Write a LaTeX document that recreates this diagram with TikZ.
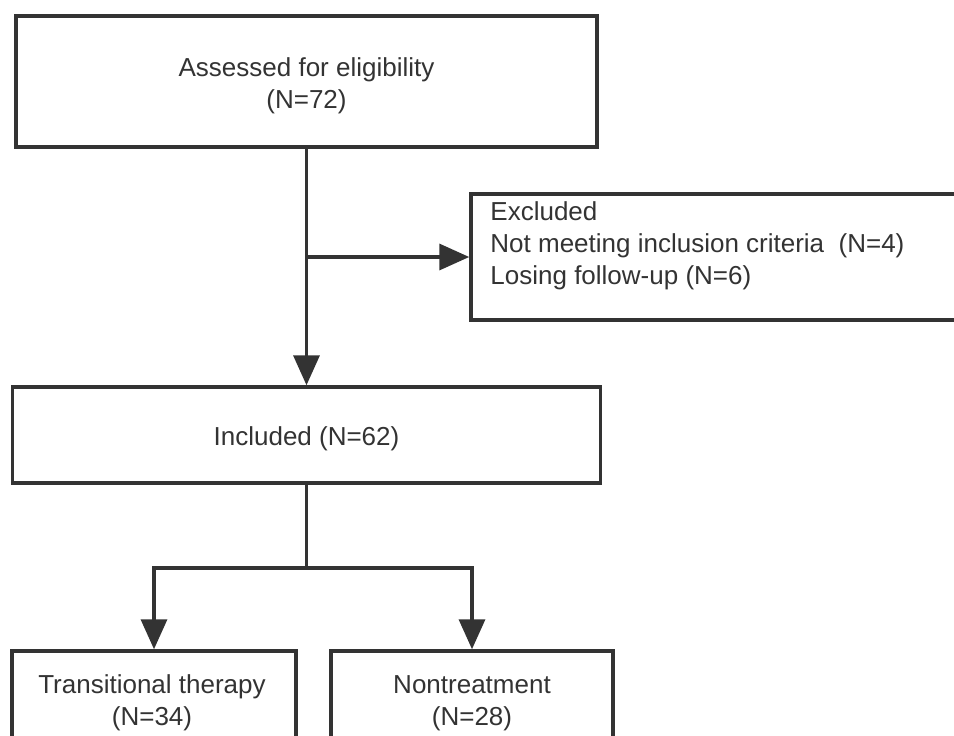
\documentclass[tikz,border=0pt]{standalone}
\usepackage{fontspec}
\setmainfont{Liberation Sans}
\usetikzlibrary{arrows.meta,calc}
\definecolor{ink}{HTML}{333333}
\begin{document}
\begin{tikzpicture}[x=1pt,y=-1pt,
  box/.style={draw=ink, line width=3.5pt, rectangle, inner sep=0pt},
  txt/.style={text=ink, inner sep=0pt, font=\fontsize{26}{32}\selectfont},
  conn/.style={draw=ink, line width=3.5pt},
  arr/.style={conn, -{Triangle[length=30pt,width=26pt]}}]
\useasboundingbox (0,0) rectangle (954,736);
\clip (0,0) rectangle (954,736);
\fill[white] (0,0) rectangle (954,736);
\node[box, minimum width=581pt, minimum height=131pt] (assess) at (306.5,81.5) {};
\node[txt, align=center] (assesstext) at ($(assess.center)+(0,4)$) {Assessed for eligibility\\(N=72)};
\node[box, minimum width=489pt, minimum height=126pt] (excl) at (715.5,257) {};
\node[txt, align=left, anchor=north west] (excltext) at ($(excl.north west)+(21,9)$) {Excluded\\Not meeting inclusion criteria~~(N=4)\\Losing follow-up (N=6)};
\node[box, minimum width=588pt, minimum height=96pt] (incl) at (306.5,435) {};
\node[txt] (incltext) at ($(incl.center)+(0,4)$) {Included (N=62)};
\node[box, minimum width=284pt, minimum height=98pt] (trans) at (154,700) {};
\node[txt, align=center] (transtext) at ($(trans.center)+(-2,3)$) {Transitional therapy\\(N=34)};
\node[box, minimum width=282pt, minimum height=98pt] (non) at (472,700) {};
\node[txt, align=center] (nontext) at ($(non.center)+(0,3)$) {Nontreatment\\(N=28)};
\coordinate (branch) at (assess.south |- excl.west);
\coordinate (split) at ($(incl.south)+(0,83)$);
\draw[arr] (assess.south) -- (incl.north);
\draw[arr] (branch) -- (excl.west);
\draw[conn] (incl.south) -- (split);
\draw[arr, line join=miter] (split) -| (trans.north);
\draw[arr, line join=miter] (split) -| (non.north);
\end{tikzpicture}
\end{document}
